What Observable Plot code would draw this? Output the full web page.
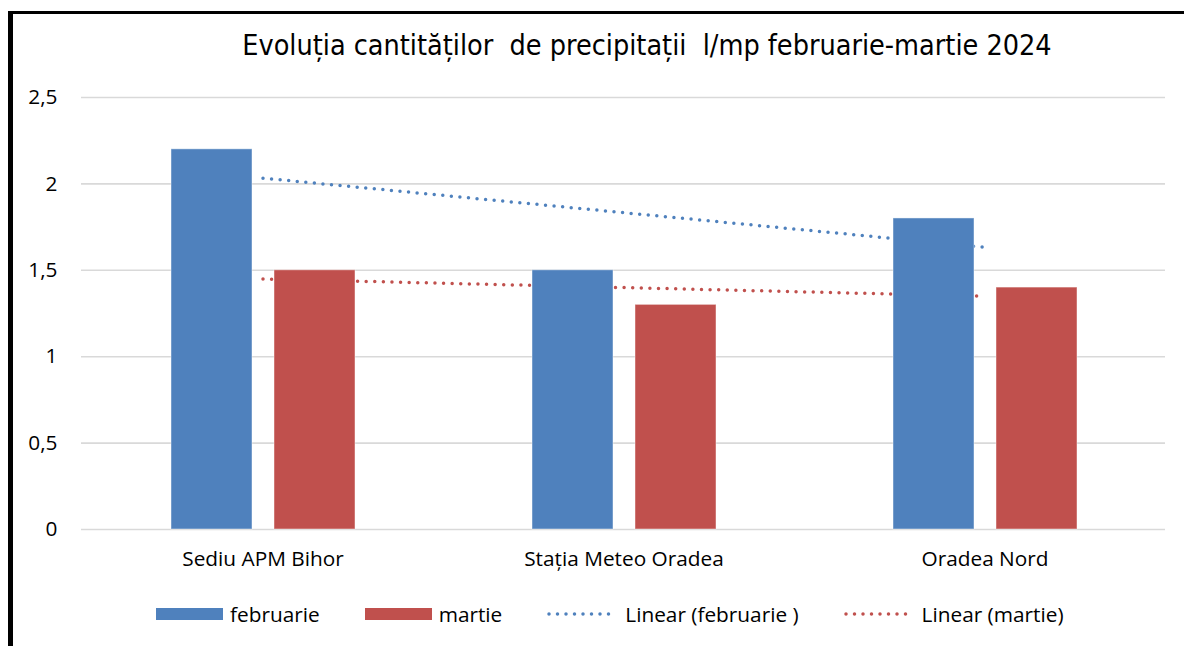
<!DOCTYPE html>
<html>
<head>
<meta charset="utf-8">
<script src="https://cdn.jsdelivr.net/npm/d3@7"></script>
<script src="https://cdn.jsdelivr.net/npm/@observablehq/plot@0.6"></script>
<style>
  html, body { margin: 0; padding: 0; background: #fff; }
  #wrap { position: relative; width: 1184px; height: 646px; overflow: hidden; font-family: "Open Sans", Lato, sans-serif; }
  #frame { position: absolute; left: 8px; top: 11px; width: 1300px; height: 800px; border-left: 5px solid #000; border-top: 3px solid #000; box-sizing: border-box; pointer-events: none; }
  #title { height: 72px; box-sizing: border-box; padding-top: 28px; padding-left: 110px; text-align: center; font-family: "DejaVu Sans Condensed", "DejaVu Sans", sans-serif; font-size: 28.5px; color: #000; line-height: 36px; white-space: pre; }
  #legend { display: flex; align-items: center; padding-left: 156px; padding-top: 8px; font-size: 20.8px; color: #000; }
  .item { display: flex; align-items: center; margin-right: 45px; }
  .sw { display: inline-block; width: 67px; height: 12px; margin-right: 7px; }
  svg.ln { margin-right: 6px; }
</style>
</head>
<body>
<div id="wrap">
  <div id="title"></div>
  <div id="chart"></div>
  <div id="legend"></div>
  <div id="frame"></div>
</div>
<script>
const titleText = "Evoluția cantităților  de precipitații  l/mp februarie-martie 2024";
const stations = ["Sediu APM Bihor", "Stația Meteo Oradea", "Oradea Nord"];
const februarie = [2.2, 1.5, 1.8];
const martie = [1.5, 1.3, 1.4];
const yTicks = [0, 0.5, 1, 1.5, 2, 2.5];
const seriesNames = ["februarie", "martie"];
const seriesColors = ["#4F81BD", "#C0504D"];
const trendNames = ["Linear (februarie )", "Linear (martie)"];

document.getElementById("title").textContent = titleText;

// least-squares linear trend over category index
function trend(values) {
  const xs = values.map((_, i) => i + 1);
  const mx = d3.mean(xs), my = d3.mean(values);
  const slope = d3.sum(xs, (x, i) => (x - mx) * (values[i] - my)) / d3.sum(xs, x => (x - mx) ** 2);
  return xs.map(x => my + slope * (x - mx));
}

const feb = stations.map((s, i) => ({station: s, value: februarie[i]}));
const mar = stations.map((s, i) => ({station: s, value: martie[i]}));
const febT = stations.map((s, i) => ({station: s, value: trend(februarie)[i]}));
const marT = stations.map((s, i) => ({station: s, value: trend(martie)[i]}));

const fmt = d => String(d).replace(".", ",");

const chart = Plot.plot({
  width: 1184,
  height: 520,
  marginLeft: 81,
  marginRight: 19,
  marginTop: 25,
  marginBottom: 63,
  style: {fontFamily: "'Open Sans', Lato, sans-serif", fontSize: "20.8px", color: "#000", background: "transparent"},
  x: {domain: stations, padding: 0, label: null, tickSize: 0, tickPadding: 22},
  y: {domain: [0, 2.5], ticks: yTicks, tickFormat: fmt, label: null, tickSize: 0, tickPadding: 24},
  marks: [
    Plot.gridY(yTicks, {stroke: "#d9d9d9", strokeOpacity: 1, strokeWidth: 1.6}),
    Plot.line(febT, {x: "station", y: "value", stroke: seriesColors[0], strokeWidth: 3.5, strokeDasharray: "0,8.6", strokeLinecap: "round"}),
    Plot.line(marT, {x: "station", y: "value", stroke: seriesColors[1], strokeWidth: 3.5, strokeDasharray: "0,8.6", strokeLinecap: "round"}),
    Plot.barY(feb, {x: "station", y: "value", fill: seriesColors[0], stroke: "#ffffff", strokeOpacity: 0.45, strokeWidth: 1, insetLeft: 89, insetRight: 191}),
    Plot.barY(mar, {x: "station", y: "value", fill: seriesColors[1], stroke: "#ffffff", strokeOpacity: 0.45, strokeWidth: 1, insetLeft: 192, insetRight: 88})
  ]
});
document.getElementById("chart").appendChild(chart);

// legend
const legend = document.getElementById("legend");
seriesNames.forEach((name, i) => {
  const it = document.createElement("div");
  it.className = "item";
  const sw = document.createElement("span");
  sw.className = "sw";
  sw.style.background = seriesColors[i];
  it.appendChild(sw);
  it.appendChild(document.createTextNode(name));
  legend.appendChild(it);
});
trendNames.forEach((name, i) => {
  const it = document.createElement("div");
  it.className = "item";
  const svg = d3.create("svg").attr("class", "ln").attr("width", 72).attr("height", 8);
  svg.append("line").attr("x1", 2).attr("x2", 70).attr("y1", 4).attr("y2", 4)
    .attr("stroke", seriesColors[i]).attr("stroke-width", 3.5)
    .attr("stroke-dasharray", "0,8.5").attr("stroke-linecap", "round");
  it.appendChild(svg.node());
  it.appendChild(document.createTextNode(name));
  legend.appendChild(it);
});
</script>
</body>
</html>
